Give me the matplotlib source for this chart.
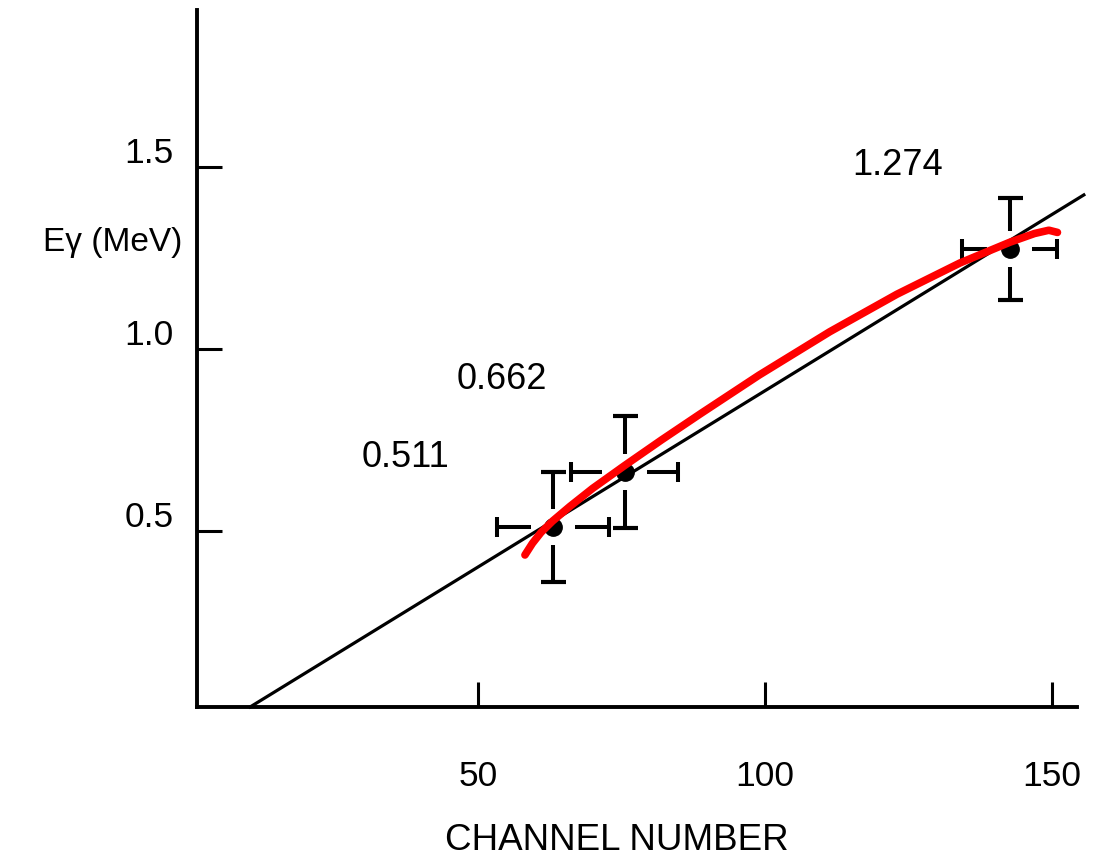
import matplotlib
matplotlib.use("Agg")
import matplotlib.pyplot as plt
from matplotlib.transforms import ScaledTranslation

plt.rcParams['font.family'] = ['Liberation Sans', 'DejaVu Sans']

# Calibration peaks: channel centroid and gamma energy (MeV)
peak_channel = [63.1, 75.6, 142.7]
peak_energy = [0.511, 0.662, 1.274]
channel_err = [9.8, 9.3, 8.3]
energy_err = [0.15, 0.154, 0.14]
peak_labels = ["0.511", "0.662", "1.274"]
label_channel = [29.8, 46.3, 115.2]
label_energy = [0.703, 0.915, 1.505]

# Straight-line calibration drawn across the plot
fit_channel = [10.3, 155.6]
fit_energy = [0.0165, 1.423]

# Hand-drawn nonlinear response curve
curve_channel = [58.2, 59.5, 61.0, 63.0, 66.0, 70.0, 75.6, 82.0, 88.7, 99.0,
                 111.3, 123.0, 134.0, 142.7, 147.0, 149.5, 151.0]
curve_energy = [0.434, 0.466, 0.496, 0.527, 0.567, 0.617, 0.680, 0.750, 0.821,
                0.928, 1.047, 1.150, 1.236, 1.293, 1.317, 1.326, 1.320]

x_ticks = [50, 100, 150]
y_ticks = [0.5, 1.0, 1.5]
y_tick_labels = ["0.5", "1.0", "1.5"]

fig = plt.figure(figsize=(11.03, 8.66), dpi=100)
ax = fig.add_axes([0.1786, 0.1836, 0.7978, 0.8049])
ax.set_xlim(1.05, 154.4)
ax.set_ylim(0.0165, 1.931)

for side in ("top", "right"):
    ax.spines[side].set_visible(False)
for side in ("left", "bottom"):
    ax.spines[side].set_linewidth(2.8)
    ax.spines[side].set_color("black")

ax.plot(fit_channel, fit_energy, color="black", lw=2.3, clip_on=False, zorder=3)
ax.plot(curve_channel, curve_energy, color="#ff0000", lw=5.5,
        solid_capstyle="round", solid_joinstyle="round", zorder=5)

# Error bars drawn as separate arms that stop short of each dot
gap_x = 3.9
gap_y = 0.05
for cx, cy, ex, ey in zip(peak_channel, peak_energy, channel_err, energy_err):
    ax.vlines(cx, cy + gap_y, cy + ey, color="black", lw=2.9, zorder=4)
    ax.vlines(cx, cy - ey, cy - gap_y, color="black", lw=2.9, zorder=4)
    ax.hlines(cy, cx + gap_x, cx + ex, color="black", lw=2.9, zorder=4)
    ax.hlines(cy, cx - ex, cx - gap_x, color="black", lw=2.9, zorder=4)
    ax.plot([cx, cx], [cy - ey, cy + ey], ls="none", marker="_",
            ms=18, mew=3.0, color="black", zorder=4)
    ax.plot([cx - ex, cx + ex], [cy, cy], ls="none", marker="|",
            ms=15, mew=2.9, color="black", zorder=4)

ax.plot(peak_channel, peak_energy, ls="none", marker="o", ms=12.5,
        color="black", zorder=4)

for txt, lx, ly in zip(peak_labels, label_channel, label_energy):
    ax.text(lx, ly, txt, fontsize=26, ha="left", va="center")

ax.set_xticks(x_ticks)
ax.set_xticklabels([str(v) for v in x_ticks])
ax.set_yticks(y_ticks)
ax.set_yticklabels(y_tick_labels)
ax.tick_params(axis="both", direction="in", length=18, width=2.2,
               labelsize=25.5, color="black")
ax.tick_params(axis="x", pad=38)
ax.tick_params(axis="y", pad=17)

shift_up = ScaledTranslation(0, 0.17, fig.dpi_scale_trans)
for lbl in ax.get_yticklabels():
    lbl.set_transform(lbl.get_transform() + shift_up)

ax.set_ylabel("Eγ (MeV)", rotation=0, ha="right", va="center", fontsize=24)
ax.yaxis.set_label_coords(-0.017, 0.667)
ax.set_xlabel("CHANNEL NUMBER", fontsize=26.5, va="center")
ax.xaxis.set_label_coords(0.477, -0.191)

fig.savefig("out.png", dpi=100)
